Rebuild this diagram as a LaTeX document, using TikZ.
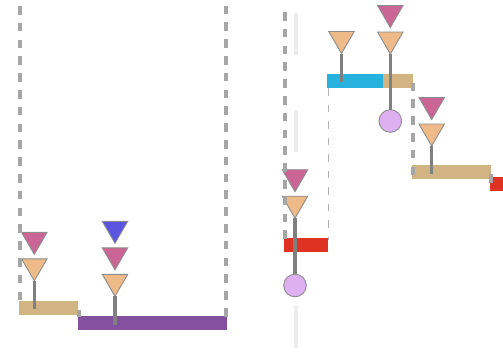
\documentclass[tikz,border=0pt]{standalone}
\usetikzlibrary{shapes.geometric}
\definecolor{tanbox}{HTML}{D2B482}
\definecolor{purplebox}{HTML}{83519F}
\definecolor{bluebox}{HTML}{27B2DD}
\definecolor{redbox}{HTML}{E03222}
\definecolor{pinktri}{HTML}{CB6595}
\definecolor{peachtri}{HTML}{EEBB88}
\definecolor{violettri}{HTML}{5B54E0}
\definecolor{lilac}{HTML}{DEB0F2}
\definecolor{edgegray}{HTML}{8C8C8C}
\definecolor{stickgray}{HTML}{808080}
\definecolor{dashgray}{HTML}{A6A6A6}
\definecolor{ghostgray}{HTML}{ECECEC}
\tikzset{
  x=1pt,y=-1pt,
  tri/.style={shape=isosceles triangle,isosceles triangle stretches=true,shape border rotate=270,
    minimum width=25.5pt,minimum height=22pt,inner sep=0pt,outer sep=0pt,anchor=apex,
    draw=edgegray,line width=0.9pt},
  barbox/.style={shape=rectangle,inner sep=0pt,outer sep=0pt,anchor=north west,minimum height=14pt},
  ball/.style={shape=circle,minimum size=22.6pt,inner sep=0pt,outer sep=0pt,fill=lilac,draw=edgegray,line width=0.9pt},
  stick/.style={draw=stickgray,line width=3.2pt},
  heavydash/.style={draw=dashgray,line width=4.2pt,dash pattern=on 8.6pt off 8.2pt},
  thindash/.style={draw=black!30,line width=1pt,dash pattern=on 7.5pt off 9pt},
  ghost/.style={draw=ghostgray,line width=4pt},
}
\begin{document}
\begin{tikzpicture}
\useasboundingbox (0,0) rectangle (503,351);

% ghost bars
\coordinate (g1a) at (296,13); \coordinate (g1b) at (296,55);
\coordinate (g2a) at (296,110); \coordinate (g2b) at (296,152);
\coordinate (g3a) at (296,306); \coordinate (g3b) at (296,348);
\draw[ghost] (g1a) -- (g1b);
\draw[ghost] (g2a) -- (g2b);
\draw[ghost] (g3a) -- (g3b);

% boxes
\node[barbox,fill=tanbox,minimum width=59pt] (tanA) at (19,301) {};
\node[barbox,fill=purplebox,minimum width=149pt] (purple) at (78,316) {};
\node[barbox,fill=bluebox,minimum width=56pt] (blue) at (327,74) {};
\node[barbox,fill=tanbox,minimum width=30pt] (tanB) at (383,74) {};
\node[barbox,fill=tanbox,minimum width=79pt] (tanC) at (412,165) {};
\node[barbox,fill=redbox,minimum width=13pt] (redS) at (490,177) {};
\node[barbox,fill=redbox,minimum width=44pt] (redL) at (284,238) {};

% triangles
\node[tri,fill=pinktri] (a1) at (34.3,254.3) {};
\node[tri,fill=peachtri] (a2) at (34.3,280.8) {};
\node[tri,fill=violettri] (b0) at (115,243.3) {};
\node[tri,fill=pinktri] (b1) at (115,269.8) {};
\node[tri,fill=peachtri] (b2) at (115,296.3) {};
\node[tri,fill=peachtri] (c1) at (341.5,53.5) {};
\node[tri,fill=pinktri] (d0) at (390.3,27.5) {};
\node[tri,fill=peachtri] (d1) at (390.3,54) {};
\node[tri,fill=pinktri] (e0) at (431.7,119.5) {};
\node[tri,fill=peachtri] (e1) at (431.7,146) {};
\node[tri,fill=pinktri] (f0) at (295,191.7) {};
\node[tri,fill=peachtri] (f1) at (295,218.2) {};

% balls
\node[ball] (ballD) at (390.3,121) {};
\node[ball] (ballF) at (295,285.5) {};

% free ends
\coordinate (endA) at (34.3,309);
\coordinate (endB) at (115,324.5);
\coordinate (endC) at (341.5,82);
\coordinate (endE) at (431.7,174);

% sticks
\draw[stick,line width=2.8pt] (a2.apex) -- (endA);
\draw[stick,line width=3.8pt] (b2.apex) -- (endB);
\draw[stick,line width=2.8pt] (c1.apex) -- (endC);
\draw[stick] (d1.apex) -- (ballD.north);
\draw[stick,line width=2.8pt] (e1.apex) -- (endE);
\draw[stick] (f1.apex) -- (ballF.north);

% dashed lines
\coordinate (l1a) at (20,6); \coordinate (l1b) at (20,300);
\coordinate (l2a) at (226.3,5.5); \coordinate (l2b) at (226.3,324);
\coordinate (l3a) at (285,12); \coordinate (l3b) at (285,239);
\coordinate (l4a) at (413,82.5); \coordinate (l4b) at (413,175);
\coordinate (l5a) at (328.4,88); \coordinate (l5b) at (328.4,240);
\coordinate (l6a) at (79,310); \coordinate (l6b) at (79,316.5);
\coordinate (l7a) at (491,174); \coordinate (l7b) at (491,183);
\draw[heavydash] (l1a) -- (l1b);
\draw[heavydash] (l2a) -- (l2b);
\draw[heavydash] (l3a) -- (l3b);
\draw[heavydash] (l4a) -- (l4b);
\draw[thindash] (l5a) -- (l5b);
\draw[heavydash,line width=3.4pt] (l6a) -- (l6b);
\draw[heavydash,line width=3.4pt] (l7a) -- (l7b);
\end{tikzpicture}
\end{document}
